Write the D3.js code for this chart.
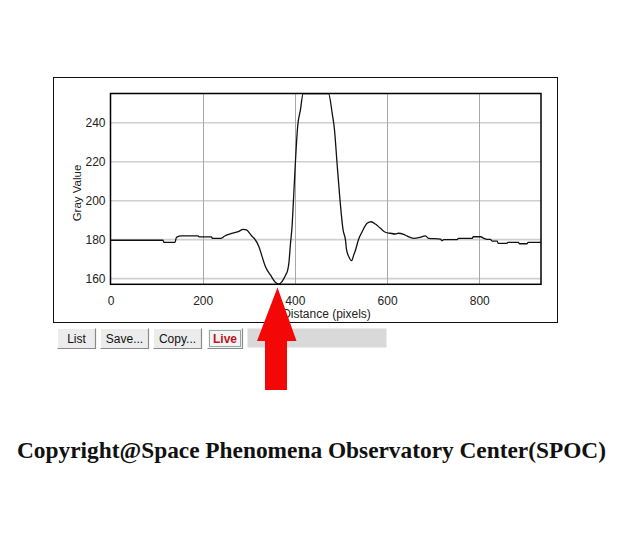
<!DOCTYPE html>
<html>
<head>
<meta charset="utf-8">
<script src="https://cdn.jsdelivr.net/npm/d3@7"></script>
<style>
  html, body { margin: 0; padding: 0; background: #fff; }
  svg { display: block; }
</style>
</head>
<body>
<svg id="chart" width="640" height="545"></svg>
<script>
// ---- data ----
const distance = [0,114,116,140,143,154,190,192,219,221,240,248,263,277,288,295,302,308,312,322,329,336,347,358,365,372,380,384,387,390.5,394,396.5,401,406,412,418,473,481,486,491.5,497.3,504.6,510,512,517,521,523,527.8,530,538.7,546,556.8,565.5,574.8,585.7,596.5,607,618,625,636,643,658,672,683,690,716,719,723,752,755,785,787,803,810,817,824,828,839,841,860,862,885,887,904,906,934];
const grayValue = [179.7,179.7,178.6,178.6,181.2,181.9,181.9,181.4,181.4,180.7,180.7,181.9,183.2,184.1,185.3,185.0,183.2,181.5,180.6,176.4,171.3,166.2,161.9,158.0,157.2,158.5,161.9,164.0,168.0,178.0,187.0,198.0,219.0,238.0,246.5,255,255,244.8,236.3,219.2,202.1,185.0,179.5,175.0,171.3,169.5,169.2,172.2,173.5,180.5,184.1,188.4,189.2,188.0,185.8,183.8,183.3,182.9,183.3,182.7,181.9,180.7,181.2,181.9,180.7,180.3,179.5,180.0,180.0,180.7,180.7,181.5,181.5,180.7,180.2,180.2,179.3,179.3,178.1,178.1,178.6,178.6,177.9,177.9,178.6,178.6];
const xTicks = [0, 200, 400, 600, 800];
const yTicks = [160, 180, 200, 220, 240];
const xDomain = [0, 934];
const yDomain = [157.1, 255];
const xLabel = "Distance (pixels)";
const yLabel = "Gray Value";
const buttons = ["List", "Save...", "Copy...", "Live"];
const copyright = "Copyright@Space Phenomena Observatory Center(SPOC)";

const svg = d3.select("#chart");
const font = "'Liberation Sans', Arial, sans-serif";

// outer frame
svg.append("rect").attr("x", 53.5).attr("y", 77.5).attr("width", 504).attr("height", 245)
  .attr("fill", "#fff").attr("stroke", "#111").attr("stroke-width", 1);

const plot = {left: 110.5, right: 541, top: 93.5, bottom: 284.3};
const x = d3.scaleLinear().domain(xDomain).range([plot.left, plot.right]);
const y = d3.scaleLinear().domain(yDomain).range([plot.bottom, plot.top]);

// grid
svg.append("g").selectAll("line").data(yTicks).join("line")
  .attr("x1", plot.left).attr("x2", plot.right)
  .attr("y1", d => y(d)).attr("y2", d => y(d))
  .attr("stroke", "#cfcfcf").attr("stroke-width", 1.6);
svg.append("g").selectAll("line").data(xTicks.filter(d => d > 0)).join("line")
  .attr("x1", d => Math.round(x(d)) + 0.5).attr("x2", d => Math.round(x(d)) + 0.5)
  .attr("y1", plot.top).attr("y2", plot.bottom)
  .attr("stroke", "#a8a8a8").attr("stroke-width", 1);

// clip
svg.append("clipPath").attr("id", "clip").append("rect")
  .attr("x", plot.left).attr("y", plot.top)
  .attr("width", plot.right - plot.left).attr("height", plot.bottom - plot.top);

const pts = distance.map((d, i) => [d, grayValue[i]]);
const line = d3.line().x(d => x(d[0])).y(d => y(d[1])).curve(d3.curveMonotoneX);
svg.append("path").datum(pts).attr("d", line)
  .attr("clip-path", "url(#clip)")
  .attr("fill", "none").attr("stroke", "#111").attr("stroke-width", 1.3)
  .attr("stroke-linejoin", "round");

// plot border
svg.append("rect").attr("x", plot.left).attr("y", plot.top)
  .attr("width", plot.right - plot.left).attr("height", plot.bottom - plot.top)
  .attr("fill", "none").attr("stroke", "#000").attr("stroke-width", 1.5);

// axes via d3 axis generators (no domain lines, labels only)
const xAxis = svg.append("g").attr("transform", `translate(0,${plot.bottom})`)
  .call(d3.axisBottom(x).tickValues(xTicks).tickSize(0).tickPadding(12).tickFormat(d3.format("d")));
xAxis.select(".domain").remove();
xAxis.selectAll("text").attr("font-family", font).attr("font-size", 12).attr("fill", "#222");

const yAxis = svg.append("g").attr("transform", `translate(${plot.left},0)`)
  .call(d3.axisLeft(y).tickValues(yTicks).tickSize(0).tickPadding(5).tickFormat(d3.format("d")));
yAxis.select(".domain").remove();
yAxis.selectAll("text").attr("font-family", font).attr("font-size", 12).attr("fill", "#222");

svg.append("text").attr("x", 326.5).attr("y", 317.5).attr("text-anchor", "middle")
  .attr("font-family", font).attr("font-size", 12).attr("fill", "#222").text(xLabel);
svg.append("text").attr("transform", "translate(81,193) rotate(-90)").attr("text-anchor", "middle")
  .attr("font-family", font).attr("font-size", 11.5).attr("fill", "#222").text(yLabel);

// buttons
const btnX = [57.5, 100.5, 153.5, 207.5];
const btnW = [38, 48, 48, 35];
const bg = svg.append("g");
buttons.forEach((b, i) => {
  const g = bg.append("g").attr("transform", `translate(${btnX[i]},328.5)`);
  const w = btnW[i], h = 20;
  const live = b === "Live";
  g.append("rect").attr("width", w).attr("height", h).attr("fill", live ? "#f4f4f4" : "#ececec");
  g.append("path").attr("d", `M0,${h} V0 H${w}`).attr("fill", "none").attr("stroke", "#fff");
  g.append("path").attr("d", `M${w},0 V${h} H0`).attr("fill", "none").attr("stroke", "#8a8a8a").attr("stroke-width", 1.2);
  if (live) {
    g.append("rect").attr("x", 2).attr("y", 2).attr("width", w - 4).attr("height", h - 4)
      .attr("fill", "none").attr("stroke", "#2f5f5a").attr("stroke-dasharray", "1,1");
  }
  g.append("text").attr("x", w / 2).attr("y", 14.5).attr("text-anchor", "middle")
    .attr("font-family", font).attr("font-size", 12)
    .attr("font-weight", live ? "bold" : "normal")
    .attr("fill", live ? "#c0161b" : "#111").text(b);
});
svg.append("rect").attr("x", 247.5).attr("y", 328.5).attr("width", 139).attr("height", 19).attr("fill", "#d9d9d9");

// red arrow
const arrow = [[277.5, 287.5], [296.5, 341], [287, 341], [287, 390], [265, 390], [265, 341], [257, 341]];
svg.append("path").attr("d", d3.line()(arrow) + "Z").attr("fill", "#f40707");

// copyright
svg.append("text").attr("x", 17).attr("y", 458)
  .attr("font-family", "'Liberation Serif', 'Times New Roman', serif")
  .attr("font-weight", "bold").attr("font-size", 24).attr("fill", "#111")
  .attr("textLength", 589).attr("lengthAdjust", "spacingAndGlyphs")
  .text(copyright);
</script>
</body>
</html>
